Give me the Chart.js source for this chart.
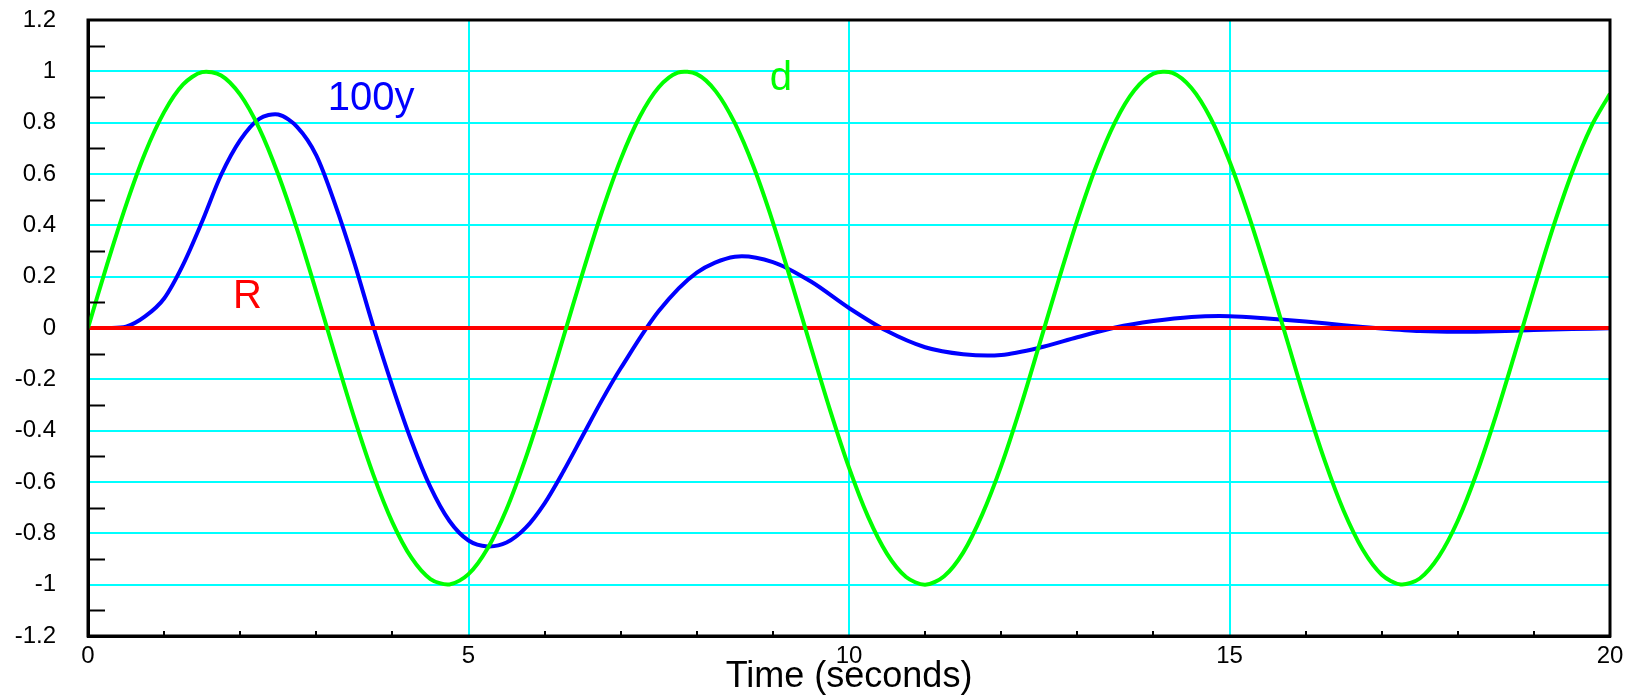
<!DOCTYPE html>
<html>
<head>
<meta charset="utf-8">
<script src="https://cdn.jsdelivr.net/npm/chart.js@4/dist/chart.umd.min.js"></script>
<style>
html, body { margin: 0; padding: 0; background: #fff; }
</style>
</head>
<body>
<canvas id="myChart" width="1631" height="695"></canvas>
<script>
// d : disturbance (green)
const timeD = [0, 0.25, 0.5, 0.75, 1, 1.25, 1.5, 1.75, 2, 2.25, 2.5, 2.75, 3, 3.25, 3.5, 3.75,
    4, 4.25, 4.5, 4.75, 5, 5.25, 5.5, 5.75, 6, 6.25, 6.5, 6.75, 7, 7.25, 7.5, 7.75,
    8, 8.25, 8.5, 8.75, 9, 9.25, 9.5, 9.75, 10, 10.25, 10.5, 10.75, 11, 11.25, 11.5, 11.75,
    12, 12.25, 12.5, 12.75, 13, 13.25, 13.5, 13.75, 14, 14.25, 14.5, 14.75, 15, 15.25, 15.5, 15.75,
    16, 16.25, 16.5, 16.75, 17, 17.25, 17.5, 17.75, 18, 18.25, 18.5, 18.75, 19, 19.25, 19.5, 19.75, 20];
const valuesD = [0, 0.247, 0.479, 0.682, 0.841, 0.949, 0.997, 0.984, 0.909, 0.778, 0.598, 0.382, 0.141, -0.108, -0.351, -0.572,
    -0.757, -0.895, -0.978, -0.999, -0.959, -0.859, -0.706, -0.508, -0.279, -0.033, 0.215, 0.450, 0.657, 0.823, 0.938, 0.995,
    0.989, 0.922, 0.798, 0.625, 0.412, 0.173, -0.075, -0.319, -0.544, -0.735, -0.880, -0.970, -1.000, -0.967, -0.875, -0.727,
    -0.537, -0.312, -0.066, 0.182, 0.420, 0.632, 0.804, 0.926, 0.991, 0.994, 0.935, 0.818, 0.650, 0.441, 0.206, -0.041,
    -0.288, -0.516, -0.712, -0.863, -0.961, -0.999, -0.976, -0.891, -0.751, -0.564, -0.342, -0.099, 0.150, 0.390, 0.605, 0.783, 0.913];

// 100y : output (blue)
const timeY = [0, 0.25, 0.5, 0.75, 1, 1.25, 1.5, 1.75, 2, 2.25, 2.5, 2.75, 3, 3.25, 3.5, 3.75,
    4, 4.25, 4.5, 4.75, 5, 5.25, 5.5, 5.75, 6, 6.25, 6.5, 6.75, 7, 7.5,
    8, 8.5, 9, 9.5, 10, 10.5, 11, 11.5, 12, 12.5, 13, 13.5, 14, 14.5, 15, 15.5,
    16, 16.5, 17, 17.5, 18, 18.5, 19, 19.5, 20];
const valuesY = [0, 0.0, 0.005, 0.045, 0.115, 0.247, 0.415, 0.597, 0.732, 0.815, 0.832, 0.783, 0.673, 0.48, 0.254, 0.005,
    -0.227, -0.44, -0.62, -0.752, -0.828, -0.851, -0.836, -0.779, -0.683, -0.557, -0.42, -0.283, -0.157, 0.066,
    0.216, 0.278, 0.257, 0.181, 0.078, -0.012, -0.075, -0.102, -0.105, -0.077, -0.036, 0.002, 0.027, 0.043, 0.046, 0.037,
    0.025, 0.011, -0.002, -0.012, -0.015, -0.013, -0.008, -0.004, -0.001];

// R : reference (red)
const timeR = [0, 20];
const valuesR = [0, 0];

const xMin = 0, xMax = 20, xStep = 1;
const yMin = -1.2, yMax = 1.2, yStep = 0.1;

const toPoints = (xs, ys) => xs.map((x, i) => ({x: x, y: ys[i]}));

const isMajorY = v => Math.round(v * 10) % 2 === 0;
const isMajorX = v => Math.round(v) % 5 === 0;

const textLabels = [
    {text: "100y", x: 3.15, y: 0.85, color: "#0000ff"},
    {text: "d", x: 8.96, y: 0.928, color: "#00ff00"},
    {text: "R", x: 1.905, y: 0.076, color: "#ff0000"}
];

const framePlugin = {
    id: "frame",
    afterDatasetsDraw(chart) {
        const {ctx, chartArea: a, scales: {x, y}} = chart;
        ctx.save();
        // curve labels
        ctx.font = "40px 'Liberation Sans', Arial, sans-serif";
        ctx.textAlign = "left";
        ctx.textBaseline = "alphabetic";
        textLabels.forEach(l => {
            ctx.fillStyle = l.color;
            ctx.fillText(l.text, x.getPixelForValue(l.x), y.getPixelForValue(l.y));
        });
        // minor ticks, drawn inside the box
        ctx.strokeStyle = "#000";
        ctx.lineWidth = 2;
        y.ticks.forEach(t => {
            if (isMajorY(t.value)) return;
            const py = Math.round(y.getPixelForValue(t.value)) + 0.5;
            ctx.beginPath();
            ctx.moveTo(a.left, py);
            ctx.lineTo(a.left + 17, py);
            ctx.stroke();
        });
        x.ticks.forEach(t => {
            if (isMajorX(t.value)) return;
            const px = Math.round(x.getPixelForValue(t.value));
            ctx.beginPath();
            ctx.moveTo(px, a.bottom);
            ctx.lineTo(px, a.bottom - 5);
            ctx.stroke();
        });
        // box
        ctx.lineWidth = 3;
        ctx.strokeRect(a.left, a.top, a.right - a.left, a.bottom - a.top);
        ctx.restore();
    }
};

const noPad = s => { s.paddingTop = 0; s.paddingBottom = 0; s.paddingLeft = 0; s.paddingRight = 0; };

const config = {
    type: "line",
    data: {
        datasets: [{
            label: "d",
            data: toPoints(timeD, valuesD),
            borderColor: "#00ff00",
            borderWidth: 4,
            pointRadius: 0,
            tension: 0.3,
            order: 0
        }, {
            label: "R",
            data: toPoints(timeR, valuesR),
            borderColor: "#ff0000",
            borderWidth: 4,
            pointRadius: 0,
            order: 1
        }, {
            label: "100y",
            data: toPoints(timeY, valuesY),
            borderColor: "#0000ff",
            borderWidth: 4,
            pointRadius: 0,
            tension: 0.3,
            order: 2
        }]
    },
    options: {
        responsive: false,
        animation: false,
        layout: {padding: {top: 20, right: 21, left: 0, bottom: 0}},
        plugins: {
            legend: {display: false},
            tooltip: {enabled: false}
        },
        scales: {
            x: {
                type: "linear",
                min: xMin,
                max: xMax,
                afterFit: s => { s.height = 59; noPad(s); },
                ticks: {
                    stepSize: xStep,
                    autoSkip: false,
                    maxRotation: 0,
                    padding: 6,
                    color: "#000",
                    font: {family: "'Liberation Sans', Arial, sans-serif", size: 24},
                    callback: v => isMajorX(v) ? String(Math.round(v)) : ""
                },
                grid: {
                    color: c => (isMajorX(c.tick.value) ? "#00ffff" : "rgba(0,0,0,0)"),
                    lineWidth: 2,
                    drawTicks: false
                },
                border: {display: true, color: "#000", width: 3},
                title: {
                    display: true,
                    text: "Time (seconds)",
                    color: "#000",
                    font: {family: "'Liberation Sans', Arial, sans-serif", size: 36, lineHeight: 1},
                    padding: {top: 0, bottom: 0}
                }
            },
            y: {
                min: yMin,
                max: yMax,
                afterFit: s => { s.width = 88; noPad(s); },
                ticks: {
                    stepSize: yStep,
                    autoSkip: false,
                    padding: 32,
                    color: "#000",
                    font: {family: "'Liberation Sans', Arial, sans-serif", size: 24},
                    callback: v => isMajorY(v) ? String(Math.round(v * 10) / 10) : ""
                },
                grid: {
                    color: c => (isMajorY(c.tick.value) ? "#00ffff" : "rgba(0,0,0,0)"),
                    lineWidth: 2,
                    drawTicks: false
                },
                border: {display: true, color: "#000", width: 3}
            }
        }
    },
    plugins: [framePlugin]
};

new Chart("myChart", config);
</script>
</body>
</html>
